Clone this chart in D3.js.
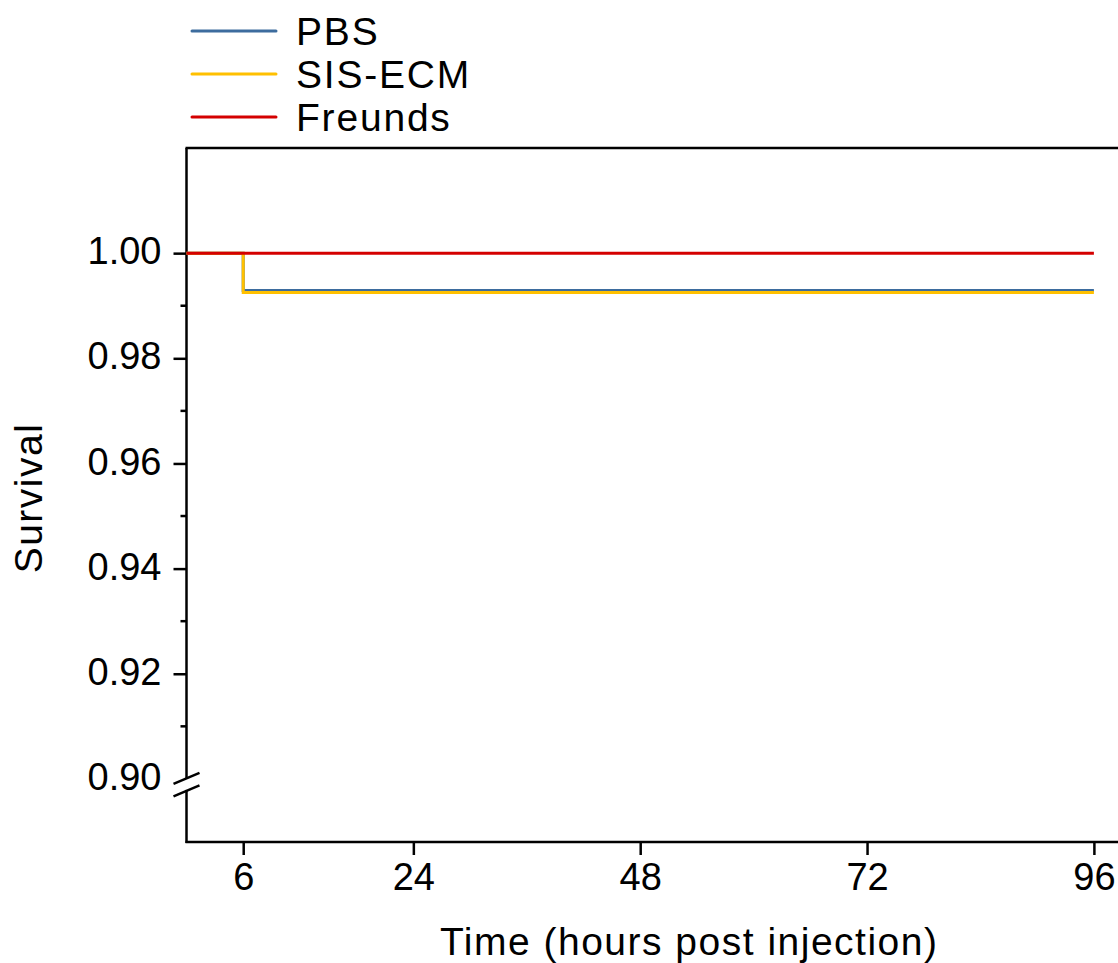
<!DOCTYPE html>
<html>
<head>
<meta charset="utf-8">
<script src="https://cdn.jsdelivr.net/npm/d3@7"></script>
<style>
  body { margin: 0; background: #fff; }
  svg { display: block; font-family: "Liberation Sans", Arial, sans-serif; }
</style>
</head>
<body>
<div id="chart"></div>
<script>
// survival data (step functions)
const groups = ['PBS', 'SIS-ECM', 'Freunds'];
const colors = ['#3d6c9e', '#ffc000', '#d40000'];
const times = [0, 6, 96];
const pbsSurv = [1.0, 0.9929, 0.9929];
const sisSurv = [1.0, 0.9925, 0.9925];
const freundsSurv = [1.0, 1.0, 1.0];
const xTicks = [6, 24, 48, 72, 96];
const yTicks = [0.90, 0.92, 0.94, 0.96, 0.98, 1.00];
const yMinor = [0.91, 0.93, 0.95, 0.97, 0.99];

const width = 1118, height = 963;
const mLeft = 186.5, mTop = 148, mBottom = 842, mRight = 1118;

const svg = d3.select('#chart').append('svg')
    .attr('width', width)
    .attr('height', height);

const x = d3.scaleLinear().domain([0, 98.55]).range([mLeft, mRight]);
const y = d3.scaleLinear().domain([0.888, 1.02]).range([mBottom, mTop]);

// x axis
const xAxis = svg.append('g')
    .attr('transform', `translate(0,${mBottom})`)
    .call(d3.axisBottom(x).tickValues(xTicks).tickSize(13).tickPadding(8).tickFormat(d3.format('d')));
xAxis.select('.domain').remove();
xAxis.selectAll('line').attr('stroke', '#000').attr('stroke-width', 2.5);
xAxis.selectAll('text').attr('font-size', 38).attr('fill', '#000');

// y axis
const yAxis = svg.append('g')
    .attr('transform', `translate(${mLeft},0)`)
    .call(d3.axisLeft(y).tickValues(yTicks).tickSize(13).tickPadding(12).tickFormat(d3.format('.2f')));
yAxis.select('.domain').remove();
yAxis.selectAll('line').attr('stroke', '#000').attr('stroke-width', 2.5);
yAxis.selectAll('text').attr('font-size', 38).attr('fill', '#000').attr('dy', '0.28em');
yAxis.selectAll('.tick').filter(d => d === 0.90).select('line').remove();

svg.append('g').selectAll('line')
    .data(yMinor)
    .join('line')
    .attr('x1', mLeft - 6).attr('x2', mLeft)
    .attr('y1', d => y(d)).attr('y2', d => y(d))
    .attr('stroke', '#000').attr('stroke-width', 2.5);

// frame lines
const yb = y(0.90);
svg.append('line').attr('x1', mLeft).attr('x2', mLeft).attr('y1', mTop).attr('y2', yb - 1)
    .attr('stroke', '#000').attr('stroke-width', 2.5);
svg.append('line').attr('x1', mLeft).attr('x2', mLeft).attr('y1', yb + 11).attr('y2', mBottom + 1)
    .attr('stroke', '#000').attr('stroke-width', 2.5);
svg.append('line').attr('x1', mLeft - 1).attr('x2', mRight).attr('y1', mBottom).attr('y2', mBottom)
    .attr('stroke', '#000').attr('stroke-width', 2.5);
svg.append('line').attr('x1', mLeft - 1).attr('x2', mRight).attr('y1', mTop).attr('y2', mTop)
    .attr('stroke', '#000').attr('stroke-width', 2.5);

// axis break marks
[0, 12.5].forEach(off => {
    svg.append('line')
        .attr('x1', mLeft - 13).attr('y1', yb + 5 + off)
        .attr('x2', mLeft + 13).attr('y2', yb - 6 + off)
        .attr('stroke', '#000').attr('stroke-width', 2.5);
});

// survival curves
const series = [pbsSurv, sisSurv, freundsSurv];
const line = d3.line()
    .x(d => x(d[0]))
    .y(d => y(d[1]))
    .curve(d3.curveStepAfter);

series.forEach((s, i) => {
    svg.append('path')
        .datum(times.map((t, j) => [t, s[j]]))
        .attr('d', line)
        .attr('fill', 'none')
        .attr('stroke', colors[i])
        .attr('stroke-width', 3);
});

// axis titles
svg.append('text')
    .attr('x', x(48) + 49).attr('y', 955)
    .attr('text-anchor', 'middle')
    .attr('font-size', 39)
    .attr('letter-spacing', 1.5)
    .text('Time (hours post injection)');

svg.append('text')
    .attr('transform', `translate(42,${(mTop + mBottom) / 2 + 3}) rotate(-90)`)
    .attr('text-anchor', 'middle')
    .attr('font-size', 39)
    .attr('letter-spacing', 1.5)
    .text('Survival');

// legend
const legend = svg.append('g');
groups.forEach((g, i) => {
    const ly = 31 + i * 43;
    legend.append('line')
        .attr('x1', 192).attr('x2', 276)
        .attr('y1', ly).attr('y2', ly)
        .attr('stroke', colors[i]).attr('stroke-width', 3)
        .attr('stroke-linecap', 'round');
    legend.append('text')
        .attr('x', 296).attr('y', ly + 14)
        .attr('font-size', 39)
        .attr('letter-spacing', 1.8)
        .text(g);
});
</script>
</body>
</html>
